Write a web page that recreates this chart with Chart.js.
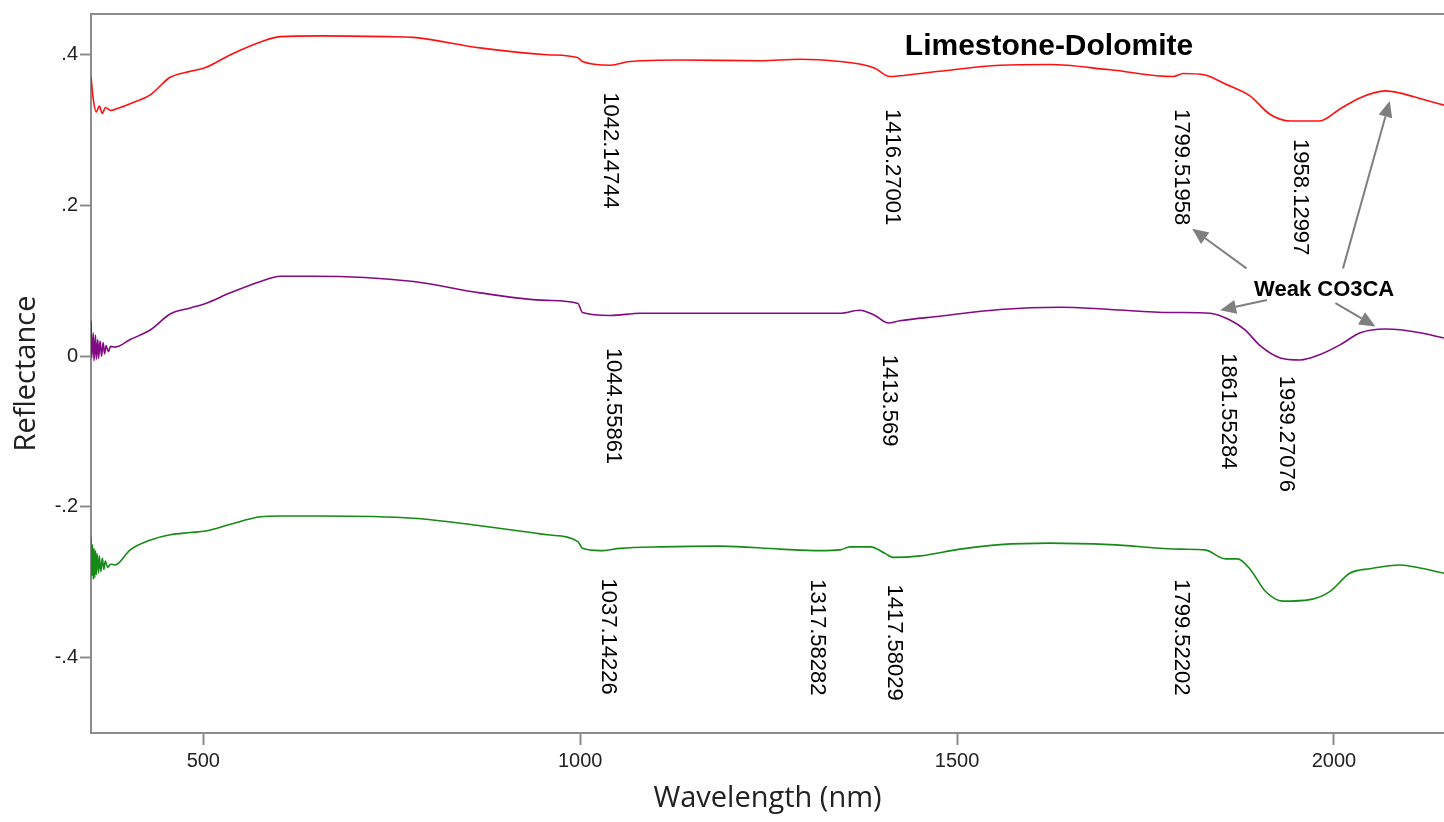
<!DOCTYPE html>
<html>
<head>
<meta charset="utf-8">
<script src="https://cdn.jsdelivr.net/npm/chart.js@4.4.1/dist/chart.umd.min.js"></script>
<style>
html,body{margin:0;padding:0;background:#fff;}
#wrap{width:1444px;height:822px;position:relative;}
</style>
</head>
<body>
<div id="wrap"><canvas id="c"></canvas></div>
<script>
// ---- axis ticks ----
const xTicks = [500, 1000, 1500, 2000];
const yTicks = [-0.4, -0.2, 0, 0.2, 0.4];
const yTickLabels = ['-.4', '-.2', '0', '.2', '.4'];

// ---- spectra: [wavelength nm, reflectance] ----
const limestoneRed = [
 [351,0.371],[354,0.341],[358,0.324],[362,0.332],[366,0.322],[370,0.330],[377,0.326],[387,0.329],
 [403,0.335],[430,0.347],[456,0.370],[483,0.378],[503,0.383],[536,0.400],[576,0.417],[602,0.424],
 [655,0.425],[744,0.424],[779,0.423],[867,0.409],[956,0.400],[997,0.396],[1003,0.391],[1040,0.386],
 [1066,0.391],[1133,0.393],[1239,0.392],[1292,0.394],[1345,0.391],[1374,0.387],[1391,0.382],[1411,0.371],
 [1424,0.372],[1477,0.378],[1557,0.386],[1623,0.387],[1703,0.380],[1787,0.371],[1800,0.375],[1829,0.373],
 [1856,0.361],[1889,0.345],[1915,0.321],[1942,0.312],[1981,0.312],[2008,0.328],[2035,0.343],[2068,0.352],
 [2088,0.349],[2114,0.342],[2146,0.333]
];
const dolomitePurple = [
 [351,0.047],[352,-0.002],[354,0.031],[355,-0.006],[357,0.028],[358,-0.004],[360,0.022],[361,-0.003],
 [363,0.020],[365,0.000],[367,0.018],[369,0.003],[371,0.014],[374,0.006],[377,0.013],[383,0.012],
 [403,0.022],[430,0.035],[456,0.056],[483,0.064],[503,0.070],[536,0.084],[576,0.099],[602,0.106],
 [646,0.106],[779,0.099],[867,0.084],[956,0.074],[997,0.070],[1003,0.058],[1040,0.054],[1080,0.057],
 [1239,0.057],[1345,0.057],[1371,0.061],[1391,0.054],[1409,0.044],[1424,0.047],[1477,0.053],[1557,0.062],
 [1637,0.065],[1703,0.062],[1783,0.058],[1800,0.058],[1836,0.057],[1862,0.048],[1882,0.035],[1902,0.014],
 [1928,-0.002],[1955,-0.005],[1981,0.002],[2008,0.015],[2035,0.031],[2068,0.036],[2088,0.035],[2114,0.031],
 [2146,0.024]
];
const mixedGreen = [
 [351,-0.240],[352,-0.292],[353,-0.250],[354,-0.296],[355,-0.255],[356,-0.294],[357,-0.258],[358,-0.290],
 [359,-0.262],[361,-0.288],[362,-0.265],[364,-0.286],[366,-0.268],[368,-0.283],[370,-0.272],[373,-0.280],
 [377,-0.276],[383,-0.277],[403,-0.257],[430,-0.244],[456,-0.237],[483,-0.234],[503,-0.232],[536,-0.223],
 [576,-0.213],[602,-0.212],[655,-0.212],[779,-0.215],[867,-0.225],[956,-0.237],[997,-0.246],[1003,-0.255],
 [1027,-0.258],[1053,-0.255],[1106,-0.253],[1186,-0.252],[1265,-0.256],[1318,-0.258],[1345,-0.257],[1358,-0.253],
 [1385,-0.253],[1405,-0.262],[1415,-0.267],[1451,-0.265],[1504,-0.256],[1557,-0.250],[1623,-0.248],[1703,-0.250],
 [1796,-0.256],[1829,-0.257],[1856,-0.269],[1872,-0.269],[1889,-0.283],[1909,-0.312],[1932,-0.325],[1968,-0.323],
 [1995,-0.312],[2021,-0.288],[2048,-0.282],[2088,-0.277],[2114,-0.281],[2146,-0.288]
];

// ---- peak annotations (text, wavelength, reflectance of label top) ----
const peakTexts = ['1042.14744','1416.27001','1799.51958','1958.12997',
                   '1044.55861','1413.569','1861.55284','1939.27076',
                   '1037.14226','1317.58282','1417.58029','1799.52202'];
const peakWl    = [1040, 1414, 1797, 1955, 1044, 1410, 1859, 1936, 1037, 1314, 1416, 1797];
const peakTop   = [0.350, 0.328, 0.328, 0.288, 0.011, 0.002, 0.004, -0.026, -0.295, -0.296, -0.303, -0.296];

const chartTitle = 'Limestone-Dolomite';
const chartTitlePos = [1622, 0.411];
const noteText = 'Weak CO3CA';
const notePos = [1987, 0.0875];
// arrows: [fromWl, fromR, toWl, toR]
const noteArrows = [
 [1884, 0.1165, 1812, 0.169],
 [1911, 0.0745, 1849, 0.0610],
 [2012, 0.1165, 2074, 0.3385],
 [2002, 0.0703, 2055, 0.0395]
];

const toPts = arr => arr.map(p => ({x: p[0], y: p[1]}));

const overlay = {
  id: 'overlay',
  afterDatasetsDraw(chart) {
    const {ctx, chartArea: a, scales: {x, y}} = chart;
    ctx.save();
    // top frame line
    ctx.strokeStyle = '#8c8c8c';
    ctx.lineWidth = 2;
    ctx.beginPath();
    ctx.moveTo(a.left - 1, a.top);
    ctx.lineTo(a.right, a.top);
    ctx.stroke();

    // peak labels (rotated clockwise)
    ctx.fillStyle = '#000';
    ctx.font = '22px "Liberation Sans", Arial, sans-serif';
    ctx.textAlign = 'left';
    ctx.textBaseline = 'middle';
    peakTexts.forEach((t, i) => {
      const px = x.getPixelForValue(peakWl[i]);
      const py = y.getPixelForValue(peakTop[i]);
      ctx.save();
      ctx.translate(px, py);
      ctx.rotate(Math.PI / 2);
      ctx.fillText(t, 0, 0);
      ctx.restore();
    });

    // arrows
    ctx.strokeStyle = '#7f7f7f';
    ctx.fillStyle = '#7f7f7f';
    ctx.lineWidth = 2;
    noteArrows.forEach(ar => {
      const x1 = x.getPixelForValue(ar[0]), y1 = y.getPixelForValue(ar[1]);
      const x2 = x.getPixelForValue(ar[2]), y2 = y.getPixelForValue(ar[3]);
      const ang = Math.atan2(y2 - y1, x2 - x1);
      const hl = 16, hw = 7;
      const bx = x2 - hl * Math.cos(ang), by = y2 - hl * Math.sin(ang);
      ctx.beginPath();
      ctx.moveTo(x1, y1);
      ctx.lineTo(bx, by);
      ctx.stroke();
      ctx.beginPath();
      ctx.moveTo(x2, y2);
      ctx.lineTo(bx + hw * Math.sin(ang), by - hw * Math.cos(ang));
      ctx.lineTo(bx - hw * Math.sin(ang), by + hw * Math.cos(ang));
      ctx.closePath();
      ctx.fill();
    });

    // titles
    ctx.fillStyle = '#000';
    ctx.textAlign = 'center';
    ctx.textBaseline = 'middle';
    ctx.font = 'bold 30px "Liberation Sans", Arial, sans-serif';
    ctx.fillText(chartTitle, x.getPixelForValue(chartTitlePos[0]), y.getPixelForValue(chartTitlePos[1]));
    ctx.font = 'bold 22px "Liberation Sans", Arial, sans-serif';
    ctx.fillText(noteText, x.getPixelForValue(notePos[0]), y.getPixelForValue(notePos[1]));
    ctx.restore();
  }
};

const tickFont = {family: '"Liberation Sans", Arial, sans-serif', size: 20};
const titleFont = {family: '"Open Sans", sans-serif', size: 29};
const gridOpts = {drawOnChartArea: false, drawTicks: true, color: '#8c8c8c', tickWidth: 2};

const lineDs = (data, color) => ({
  data: toPts(data), borderColor: color, borderWidth: 1.6, pointRadius: 0,
  cubicInterpolationMode: 'monotone', fill: false
});

new Chart(document.getElementById('c'), {
  type: 'line',
  data: {
    datasets: [
      lineDs(limestoneRed, '#ff1010'),
      lineDs(dolomitePurple, '#820a82'),
      lineDs(mixedGreen, '#168a16')
    ]
  },
  options: {
    responsive: true,
    maintainAspectRatio: false,
    animation: false,
    devicePixelRatio: 1,
    layout: {padding: {top: 10, left: 0, right: 0, bottom: 0}},
    plugins: {legend: {display: false}, tooltip: {enabled: false}},
    scales: {
      x: {
        type: 'linear', min: 351, max: 2146,
        afterBuildTicks: s => { s.ticks = xTicks.map(v => ({value: v})); },
        afterFit: s => { s.height = 89; },
        ticks: {font: tickFont, color: '#222', padding: 4, autoSkip: false, maxRotation: 0,
                callback: v => String(v)},
        grid: Object.assign({tickLength: 12}, gridOpts),
        border: {display: true, color: '#8c8c8c', width: 2},
        title: {display: true, text: 'Wavelength (nm)', font: titleFont, color: '#222',
                padding: {top: 0, bottom: 6}}
      },
      y: {
        type: 'linear', min: -0.5, max: 0.454,
        afterBuildTicks: s => { s.ticks = yTicks.map(v => ({value: v})); },
        afterFit: s => { s.width = 91; },
        ticks: {font: tickFont, color: '#222', padding: 2,
                callback: (v, i) => yTickLabels[i]},
        grid: Object.assign({tickLength: 11}, gridOpts),
        border: {display: true, color: '#8c8c8c', width: 2},
        title: {display: true, text: 'Reflectance', font: titleFont, color: '#222',
                padding: {top: 9, bottom: 0}}
      }
    }
  },
  plugins: [overlay]
});
</script>
</body>
</html>
